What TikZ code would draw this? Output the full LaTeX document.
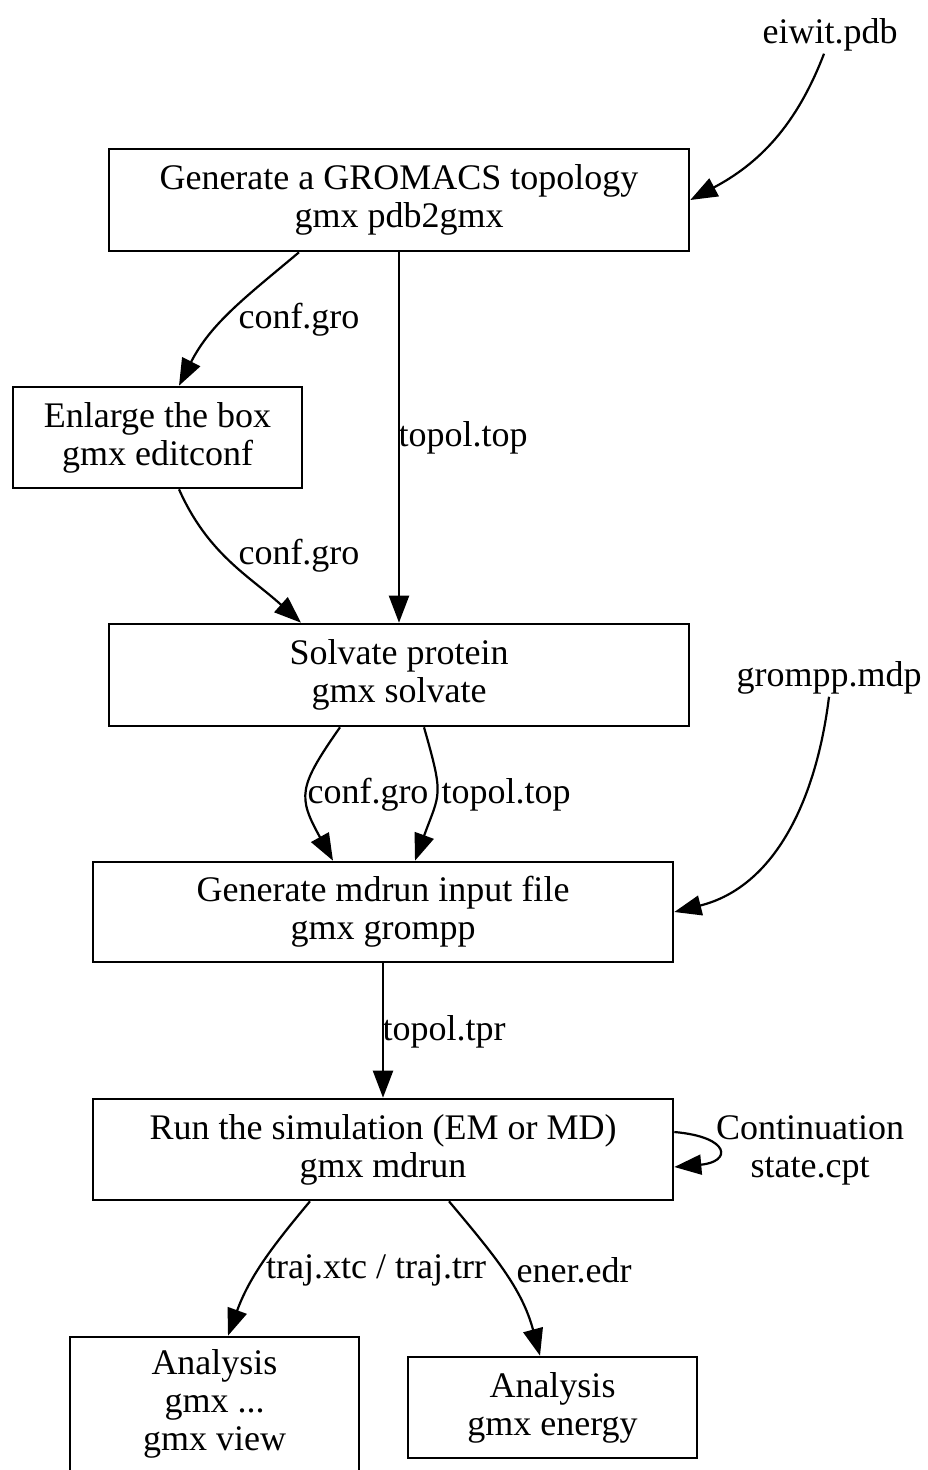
\documentclass[tikz,border=0pt]{standalone}
\usepackage{fontspec}
\setmainfont{Liberation Serif}
\usetikzlibrary{arrows.meta}
\begin{document}
\begin{tikzpicture}[x=0.5pt,y=-0.5pt,
  font=\fontsize{18}{19}\selectfont,
  bigbox/.style={draw,line width=1.3pt,minimum width=290pt,minimum height=51pt,align=center,inner sep=0pt},
  smallbox/.style={draw,line width=1.3pt,minimum width=144.5pt,minimum height=50.5pt,align=center,inner sep=0pt},
  lbl/.style={inner sep=1pt,align=center},
  edge/.style={line width=1.1pt,-{Triangle[length=13.5pt,width=10pt]}}]
\useasboundingbox (0,0) rectangle (927,1470);
\node[lbl] (eiwit) at (830,35) {eiwit.pdb};
\node[bigbox] (b1) at (399,200) {Generate a GROMACS topology\\gmx pdb2gmx};
\node[smallbox] (b2) at (157.5,437.5) {Enlarge the box\\gmx editconf};
\node[bigbox] (b3) at (399,675) {Solvate protein\\gmx solvate};
\node[lbl] (grompp) at (829,678) {grompp.mdp};
\node[bigbox,minimum height=50pt] (b4) at (383,912) {Generate mdrun input file\\gmx grompp};
\node[bigbox,minimum height=50.5pt] (b5) at (383,1149.5) {Run the simulation (EM or MD)\\gmx mdrun};
\node[smallbox,minimum height=67pt] (b6) at (214.5,1404) {Analysis\\gmx ...\\gmx view};
\node[smallbox] (b7) at (552.5,1407.5) {Analysis\\gmx energy};
% labels
\node[lbl] (l1) at (299,320) {conf.gro};
\node[lbl] (l2) at (463,438) {topol.top};
\node[lbl] (l3) at (299,556) {conf.gro};
\node[lbl] (l4) at (368,795) {conf.gro};
\node[lbl] (l5) at (506,795) {topol.top};
\node[lbl] (l6) at (444,1032) {topol.tpr};
\node[lbl] (l7) at (810,1150) {Continuation\\state.cpt};
\node[lbl] (l8) at (376,1270) {traj.xtc / traj.trr};
\node[lbl] (l9) at (574,1270) {ener.edr};
% edges
\draw[edge] ([xshift=-3pt]eiwit.south) to[out=-111,in=28] (b1.east);
\draw[edge] ([xshift=-50pt]b1.south) to[out=-140,in=63] ([xshift=10.75pt]b2.north);
\draw[edge] (b1.south) -- (b3.north);
\draw[edge] ([xshift=10.75pt]b2.south) to[out=-66,in=138] ([xshift=-49pt]b3.north);
\draw[edge] ([xshift=-29.5pt]b3.south) to[out=-125,in=119,looseness=1.4] ([xshift=-25pt]b4.north);
\draw[edge] ([xshift=12.5pt]b3.south) to[out=-74,in=70,looseness=1.4] ([xshift=16pt]b4.north);
\draw[edge] (grompp.south) to[out=-97,in=14] (b4.east);
\draw[edge] (b4.south) -- (b5.north);
\draw[edge] ([yshift=8.75pt]b5.east) to[out=-5,in=5,looseness=4.2] ([yshift=-8.75pt]b5.east);
\draw[edge] ([xshift=-36.5pt]b5.south) to[out=-130,in=70] ([xshift=6.75pt]b6.north);
\draw[edge] ([xshift=33pt]b5.south) to[out=-50,in=105] ([xshift=-6.25pt]b7.north);
\end{tikzpicture}
\end{document}
